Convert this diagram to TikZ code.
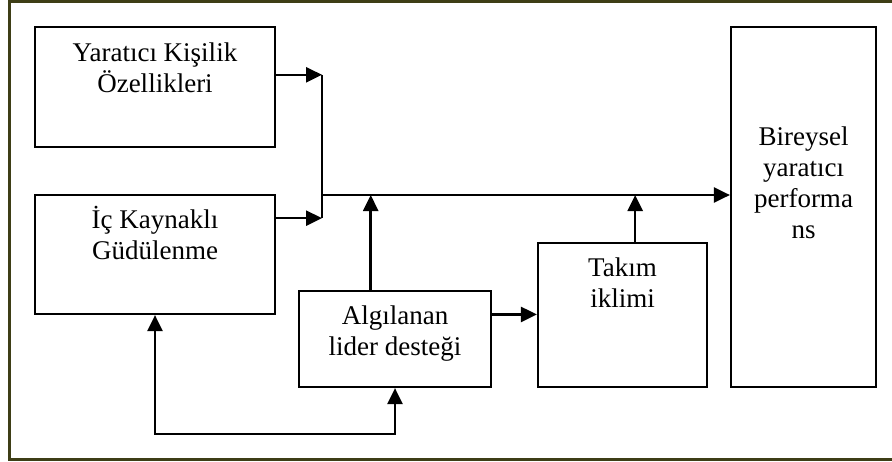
\documentclass[tikz,border=0pt]{standalone}
\usepackage{fontspec}
\setmainfont{Liberation Serif}
\usepackage{tikz}
\usetikzlibrary{calc}
\usetikzlibrary{arrows.meta}
\definecolor{cerceve}{RGB}{62,62,22}

\begin{document}
\begin{tikzpicture}[x=1pt,y=-1pt,
	kutu/.style={draw,line width=2.2pt,minimum width=#1,inner sep=0pt},
	yazi/.style={anchor=base,align=center,inner sep=0pt,font=\fontsize{27}{31}\selectfont},
	cizgi/.style={line width=2.2pt},
	ok/.style={line width=2.5pt,-{Triangle[length=16pt,width=15pt]}}]
	\useasboundingbox (0,0) rectangle (892,461);
	% frame round the figure, its right side lies outside the page
	\draw[cerceve,line width=3pt] (892,1.5) -- (9.5,1.5) -- (9.5,459.5) -- (892,459.5);
	% boxes
	\node[kutu=240pt,minimum height=120pt] (kisilik) at (155,87) {};
	\node[kutu=240pt,minimum height=119pt] (gudulenme) at (155,254.5) {};
	\node[kutu=192pt,minimum height=96pt] (lider) at (395,339) {};
	\node[kutu=169pt,minimum height=144pt] (takim) at (622.5,315) {};
	\node[kutu=145pt,minimum height=360pt] (performans) at (803.5,207) {};
	% texts, the base anchor is the baseline of the last line
	\node[yazi] (kisilikyazi) at ($(kisilik.north)+(0,67)$) {Yaratıcı Kişilik\\Özellikleri};
	\node[yazi] (gudulenmeyazi) at ($(gudulenme.north)+(0,66)$) {İç Kaynaklı\\Güdülenme};
	\node[yazi] (lideryazi) at ($(lider.north)+(0,66)$) {Algılanan\\lider desteği};
	\node[yazi] (takimyazi) at ($(takim.north)+(0,66)$) {Takım\\iklimi};
	\node[yazi] (performansyazi) at ($(performans.north)+(0,213)$) {Bireysel\\yaratıcı\\performa\\ns};
	% meeting point of the two upper arrows
	\coordinate (birles) at (322,195);
	\coordinate (alt) at (0,434);
	\draw[ok] ($(kisilik.north east)!0.4!(kisilik.south east)$) coordinate (k1) -- (k1 -| birles);
	\draw[ok] ($(gudulenme.north east)!0.2!(gudulenme.south east)$) coordinate (g1) -- (g1 -| birles);
	\draw[cizgi] (k1 -| birles) -- (g1 -| birles);% vertical join
	\draw[ok] (birles) -- (birles -| performans.west);% main line
	\draw[ok] ($(lider.north west)!0.375!(lider.north east)$) coordinate (l1) -- (l1 |- birles);
	\draw[ok] ($(takim.north west)!0.574!(takim.north east)$) coordinate (t1) -- (t1 |- birles);
	\draw[ok] ($(lider.north east)!0.25!(lider.south east)$) coordinate (l2) -- (l2 -| takim.west);
	% feedback loop at the bottom
	\draw[ok,{Triangle[length=16pt,width=15pt]}-{Triangle[length=16pt,width=15pt]}] (gudulenme.south) -- (gudulenme.south |- alt) -- (lider.south |- alt) -- (lider.south);
\end{tikzpicture}
\end{document}
